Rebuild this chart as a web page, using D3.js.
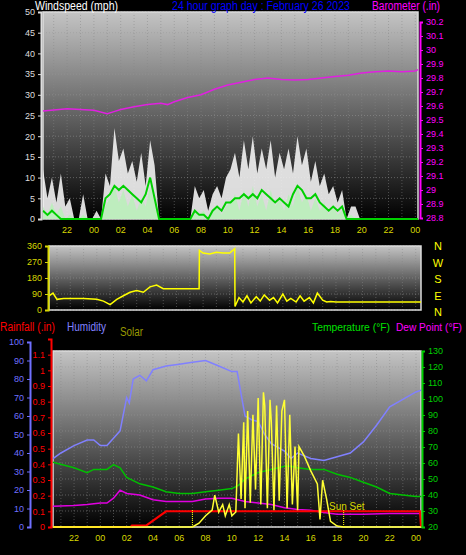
<!DOCTYPE html>
<html>
<head>
<meta charset="utf-8">
<script src="https://cdn.jsdelivr.net/npm/d3@7"></script>
<style>
  body { margin: 0; background: #000; }
  svg { display: block; font-family: "Liberation Sans", Arial, sans-serif; }
</style>
</head>
<body>
<div id="chart"></div>
<script>
// ---- data (time in hours since 00:00 Feb 26; negative = previous evening) ----
const windStart = -3.8, windStep = 1 / 3;
const windGust = [12,5,10,4,11,3,5,0,0,6,0,0,2,0,11,8,22,14,17,11,14,9,16,8,19,13,0,0,0,0,0,0,0,0,8,5,
  7,2,6,8,5,10,12,16,10,19,12,20,11,17,12,19,10,16,12,17,11,20,13,17,9,14,8,11,6,8,4,7,0,3,3,
  0,0,0,0,0,0,0,0,0,0,0,0,0,0];
const windSpeed = [3,1,4,1,3,0,1,0,0,1,0,0,0,0,3,5,8,4,7,3,6,2,5,3,8,4,0,0,0,0,0,0,0,0,2,1,
  2,0,2,3,1,3,4,6,2,7,3,8,3,6,2,7,3,5,2,6,3,8,4,6,2,5,2,4,1,3,1,2,0,1,0,
  0,0,0,0,0,0,0,0,0,0,0,0,0,0];
const windAvg = [2,1,2,1,0,0,0,0,0,0,0,0,0,0,5,6,8,7,8,7,6,5,4,6,10,5,0,0,0,0,0,0,0,0,2,1,
  1,0,2,3,2,4,4,5,5,6,5,6,5,7,6,5,4,5,4,3,6,8,7,5,5,6,4,3,2,3,2,3,0,0,0,
  0,0,0,0,0,0,0,0,0,0,0,0,0,0];

const baroTimes = [-3.8,-2,-1,0,1,1.5,2,3,4,5,5.5,6,7,8,9,10,11,12,13,14,15,16,17,18,19,20,21,22,23,24,24.2];
const baroValues = [29.565,29.58,29.575,29.57,29.545,29.56,29.575,29.595,29.61,29.62,29.61,29.63,29.66,29.68,
  29.72,29.75,29.77,29.79,29.8,29.79,29.785,29.79,29.8,29.81,29.82,29.835,29.845,29.85,29.845,29.85,29.86];

const dirTimes = [-3.6,-3.3,-3,-2.5,-2,-1,0,0.5,1,1.5,2,2.5,3,3.5,4,4.5,5,6,7,7.7,7.72,8,8.5,9,9.5,10,10.38,10.4,
  10.7,11,11.3,11.6,12,12.3,12.6,13,13.3,13.6,14,14.3,14.6,15,15.3,15.6,16,16.3,16.6,17,17.3,17.6,18,20,22,24.4];
const dirValues = [80,95,60,65,65,65,60,50,30,60,80,100,110,100,130,140,120,120,120,120,335,320,315,325,320,320,345,20,
  70,45,80,40,75,50,85,55,70,40,90,50,65,45,80,50,70,40,95,55,45,48,45,45,45,45];

const humTimes = [-3.6,-3,-2,-1,-0.5,0,0.5,1,1.5,2,2.2,2.5,3,3.5,4,5,6,7,8,9,10,10.4,10.7,11,11.5,12,12.5,13,14,14.5,15,16,17,18,19,20,21,22,23,24,24.4];
const humValues = [37,40,44,47,47,44,44,48,52,70,67,80,82,79,85,87,88,89,90,87,84,84,72,60,58,57,50,45,41,37,40,37,36,38,40,46,55,65,69,73,74];

const tempTimes = [-3.6,-2,-1,-0.5,0,0.5,1,1.5,2,3,4,5,6,7,8,9,10,10.5,11,12,13,14,14.5,15,16,17,18,19,20,21,22,23,24,24.4];
const tempValues = [60.5,57,54,56,56,56,59,57,51,47,45,42,41,41,42,43,44,46,50,54,56,58,58,57,56,56,53,51,48,45,41,40,39,39];

const dewTimes = [-3.6,-2,-1,0,0.5,1,1.5,2,3,4,5,6,7,8,9,10,11,12,13,14,15,16,17,18,19,20,22,24,24.4];
const dewValues = [33,33.5,34,35,35,38,43,41,40,37,36,36,36,37.5,38,38,36,35,34,32,31,30.5,29,28,28,28,28.5,28.5,28.5];

const rainTimes = [-3.6,2.3,2.4,3.5,5,24.3,24.38];
const rainValues = [0,0,0.01,0.01,0.1,0.1,0];

const solarTimes = [-3.6,7,7.5,8,8.5,8.7,9,9.3,9.5,9.8,10,10.3,10.5,10.7,10.9,11,11.2,11.4,11.6,11.8,12,12.2,12.4,12.5,12.7,
  12.9,13,13.2,13.4,13.6,13.8,14,14.2,14.4,14.6,14.8,15,15.1,15.5,16,16.5,16.7,16.9,17.2,17.5,18,18.5,24.4];
const solarValues = [0,0,20,60,90,170,80,120,60,120,60,80,500,150,560,100,620,130,600,200,690,120,720,650,100,
  680,560,90,650,140,620,680,100,600,120,430,90,430,380,300,230,40,250,150,30,5,0,0];

const hourTicks = [-2,0,2,4,6,8,10,12,14,16,18,20,22,24];
const fmtHour = h => String(((h % 24) + 24) % 24).padStart(2, "0");

// ---- drawing ----
const W = 466, H = 555;
const svg = d3.select("#chart").append("svg").attr("width", W).attr("height", H);
const defs = svg.append("defs");
const grad = defs.append("linearGradient").attr("id", "bg").attr("x1", 0).attr("y1", 0).attr("x2", 0).attr("y2", 1);
grad.append("stop").attr("offset", "0%").attr("stop-color", "#c4c4c4");
grad.append("stop").attr("offset", "100%").attr("stop-color", "#000");

function panel(x, y, hourAxis, hGrid) {
  const [x0, x1] = x.range(), [y1, y0] = y.range();
  const g = svg.append("g");
  g.append("rect").attr("x", x0).attr("y", y0).attr("width", x1 - x0).attr("height", y1 - y0).attr("fill", "url(#bg)");
  const hours = d3.range(Math.ceil(x.domain()[0]), Math.floor(x.domain()[1]) + 1);
  g.selectAll(".vg").data(hours).join("line")
    .attr("x1", d => x(d)).attr("x2", d => x(d)).attr("y1", y0).attr("y2", y1)
    .attr("stroke", "#888").attr("stroke-opacity", 0.5).attr("stroke-dasharray", "1,2");
  g.selectAll(".hg").data(hGrid).join("line")
    .attr("x1", x0).attr("x2", x1).attr("y1", d => y(d)).attr("y2", d => y(d))
    .attr("stroke", "#999").attr("stroke-opacity", 0.5).attr("stroke-dasharray", "1,2");
  g.append("rect").attr("x", x0).attr("y", y0).attr("width", x1 - x0).attr("height", y1 - y0)
    .attr("fill", "none").attr("stroke", "#ddd").attr("stroke-width", 1.5);
  if (hourAxis) {
    g.selectAll(".xl").data(hourTicks).join("text")
      .attr("x", d => x(d)).attr("y", y1 + 14).attr("text-anchor", "middle")
      .attr("fill", "#d8d800").attr("font-size", 9).text(fmtHour);
  }
  return g;
}

function yAxis(scale, xPos, ticks, color, side, fmt) {
  const ax = (side === "left" ? d3.axisLeft(scale) : d3.axisRight(scale))
    .tickValues(ticks).tickSize(3).tickFormat(fmt || (d => d));
  const g = svg.append("g").attr("transform", `translate(${xPos},0)`).call(ax);
  g.select(".domain").attr("stroke", color).attr("stroke-width", 2);
  g.selectAll("line").attr("stroke", color);
  g.selectAll("text").attr("fill", color).attr("font-size", 9);
  return g;
}

function label(x, y, color, text, len, size) {
  svg.append("text").attr("x", x).attr("y", y).attr("fill", color).attr("font-size", size || 12)
    .attr("textLength", len).attr("lengthAdjust", "spacingAndGlyphs").text(text);
}

// top: wind + barometer
const xTop = d3.scaleLinear().domain([-3.8, 24.2]).range([43, 418]);
const yWind = d3.scaleLinear().domain([0, 50]).range([219, 12]);
const yBaro = d3.scaleLinear().domain([28.8, 30.2]).range([218, 22]);
panel(xTop, yWind, true, d3.range(0, 51, 5));
const wt = i => windStart + i * windStep;
const areaWind = d3.area().x((d, i) => xTop(wt(i))).y0(yWind(0)).y1(d => yWind(d));
svg.append("path").datum(windGust).attr("d", areaWind).attr("fill", "#f2f2f2").attr("fill-opacity", 0.9);
svg.append("path").datum(windSpeed).attr("d", areaWind).attr("fill", "#b8f0b8").attr("fill-opacity", 0.85);
svg.append("path").datum(windAvg).attr("d", d3.line().x((d, i) => xTop(wt(i))).y(d => yWind(d)))
  .attr("fill", "none").attr("stroke", "#00d000").attr("stroke-width", 2);
svg.append("path").datum(baroTimes)
  .attr("d", d3.line().x(d => xTop(d)).y((d, i) => yBaro(baroValues[i])))
  .attr("fill", "none").attr("stroke", "#e020e0").attr("stroke-width", 1.5);
yAxis(yWind, 41, d3.range(0, 51, 5), "#dddddd", "left");
yAxis(yBaro, 420, d3.range(28.8, 30.21, 0.1).map(d => +d.toFixed(1)), "#ff00ff", "right",
  d => (+d.toFixed(1)).toString());

label(35, 10, "#fff", "Windspeed (mph)", 83);
label(172, 10, "#0000ff", "24 hour graph day : February 26 2023", 178);
label(372, 10, "#ff00ff", "Barometer (.in)", 68);

// middle: wind direction
const xMid = d3.scaleLinear().domain([-3.6, 24.4]).range([49, 421]);
const yDir = d3.scaleLinear().domain([0, 360]).range([310, 246]);
panel(xMid, yDir, false, [0, 90, 180, 270, 360]);
svg.append("path").datum(dirTimes)
  .attr("d", d3.line().x(d => xMid(d)).y((d, i) => yDir(dirValues[i])))
  .attr("fill", "none").attr("stroke", "#ffff00").attr("stroke-width", 1.5);
yAxis(yDir, 48, [0, 90, 180, 270, 360], "#d8d800", "left");
svg.selectAll(".compass").data(["N", "W", "S", "E", "N"]).join("text")
  .attr("x", 438).attr("y", (d, i) => 250 + i * 16.5).attr("text-anchor", "middle")
  .attr("fill", "#ffff00").attr("font-size", 11).text(d => d);

// bottom: temp, dew, humidity, rain, solar
const xBot = d3.scaleLinear().domain([-3.6, 24.38]).range([53, 421]);
const yHum = d3.scaleLinear().domain([0, 100]).range([527, 342]);
const yRain = d3.scaleLinear().domain([0, 1.2]).range([527, 339]);
const yTemp = d3.scaleLinear().domain([20, 130]).range([527, 351]);
const ySolar = d3.scaleLinear().domain([0, 1000]).range([527, 340]);
panel(xBot, yTemp, true, d3.range(20, 131, 10));
const lineOf = (times, vals, ys) => d3.line().x(d => xBot(d)).y((d, i) => ys(vals[i]))(times);
const draw = (times, vals, ys, color, w) => svg.append("path").attr("d", lineOf(times, vals, ys))
  .attr("fill", "none").attr("stroke", color).attr("stroke-width", w);
draw(humTimes, humValues, yHum, "#8080ff", 1.5);
draw(tempTimes, tempValues, yTemp, "#00c000", 1.5);
draw(dewTimes, dewValues, yTemp, "#e000e0", 1.5);
draw(rainTimes, rainValues, yRain, "#ff0000", 2);
svg.append("line").attr("x1", xBot(-3.6)).attr("x2", xBot(2.3)).attr("y1", 527).attr("y2", 527)
  .attr("stroke", "#ff9900").attr("stroke-width", 2);
draw(solarTimes, solarValues, ySolar, "#ffff33", 1.5);
[7, 18.5].forEach(t => svg.append("line").attr("x1", xBot(t)).attr("x2", xBot(t)).attr("y1", 510).attr("y2", 527)
  .attr("stroke", "#ffff00").attr("stroke-dasharray", "1,1"));
svg.append("text").attr("x", 329).attr("y", 510).attr("fill", "#d8d800").attr("font-size", 10).text("Sun Set");
yAxis(yHum, 30, d3.range(0, 101, 10), "#7070ff", "left");
yAxis(yRain, 51, d3.range(0, 1.11, 0.1).map(d => +d.toFixed(1)), "#ff0000", "left");
yAxis(yTemp, 422, d3.range(20, 131, 10), "#00d000", "right");

label(0, 331, "#ff0000", "Rainfall (.in)", 55);
label(67, 331, "#8080ff", "Humidity", 39);
label(120, 336, "#999900", "Solar", 23);
label(312, 331, "#00e000", "Temperature (°F)", 78, 11);
label(396, 331, "#ff00ff", "Dew Point (°F)", 66, 11);
</script>
</body>
</html>
